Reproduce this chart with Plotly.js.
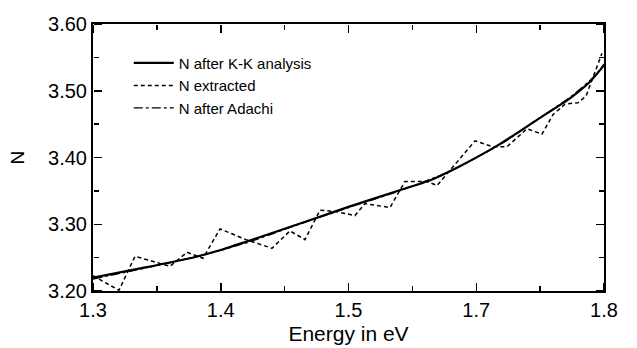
<!DOCTYPE html>
<html>
<head>
<meta charset="utf-8">
<script src="https://cdn.plot.ly/plotly-3.0.1.min.js"></script>
<style>html,body{margin:0;padding:0;background:#fff;}#chart{width:637px;height:348px;}</style>
</head>
<body>
<div id="chart"></div>
<script>
// Energy (eV) and refractive index N
const kkEnergy = [1.300, 1.350, 1.400, 1.424, 1.454, 1.512, 1.550, 1.600, 1.630, 1.659, 1.698, 1.737, 1.767, 1.786, 1.800];
const kkN      = [3.220, 3.235, 3.251, 3.261, 3.276, 3.306, 3.326, 3.351, 3.366, 3.387, 3.420, 3.459, 3.489, 3.513, 3.538];

const extEnergy = [1.300, 1.3254, 1.3411, 1.3753, 1.3920, 1.4076, 1.4243, 1.4497, 1.4751, 1.4927, 1.5074, 1.5221, 1.5378, 1.5563, 1.5661, 1.5906, 1.6052, 1.6268, 1.6366, 1.6738, 1.6914, 1.7050, 1.7246, 1.7393, 1.7500, 1.7618, 1.7745, 1.7824, 1.7980];
const extN      = [3.223, 3.201, 3.252, 3.237, 3.258, 3.249, 3.293, 3.277, 3.264, 3.290, 3.277, 3.321, 3.319, 3.313, 3.331, 3.325, 3.364, 3.364, 3.358, 3.425, 3.416, 3.416, 3.443, 3.435, 3.464, 3.480, 3.482, 3.492, 3.556];

const adaEnergy = [1.300, 1.350, 1.400, 1.450, 1.500, 1.550, 1.600, 1.650, 1.700, 1.740, 1.770, 1.790, 1.800];
const adaN      = [3.218, 3.234, 3.251, 3.272, 3.299, 3.325, 3.350, 3.380, 3.421, 3.462, 3.494, 3.521, 3.540];

const xTickVals = [1.3, 1.425, 1.55, 1.675, 1.8];
const xTickText = ["1.3", "1.4", "1.5", "1.7", "1.8"];

const hidden = {mode: 'lines', showlegend: false, hoverinfo: 'skip', line: {color: 'rgba(0,0,0,0)', width: 0}};
const traces = [
  {x: kkEnergy, y: kkN, mode: 'lines', name: 'N after K-K analysis',
   line: {color: '#000', width: 2.2, shape: 'spline', smoothing: 0.6}},
  {x: extEnergy, y: extN, mode: 'lines', name: 'N extracted',
   line: {color: '#000', width: 1.5, dash: '4px,3px'}},
  {x: adaEnergy, y: adaN, mode: 'lines', name: 'N after Adachi',
   line: {color: '#000', width: 1.3, dash: 'dashdot', shape: 'spline', smoothing: 0.6}},
  // invisible carriers so the tick-only overlay axes are drawn
  Object.assign({x: kkEnergy, y: kkN, xaxis: 'x2', yaxis: 'y'}, hidden),
  Object.assign({x: kkEnergy, y: kkN, xaxis: 'x3', yaxis: 'y'}, hidden),
  Object.assign({x: kkEnergy, y: kkN, xaxis: 'x', yaxis: 'y2'}, hidden),
  Object.assign({x: kkEnergy, y: kkN, xaxis: 'x', yaxis: 'y3'}, hidden)
];

const font = 'Liberation Sans, Arial, sans-serif';
const plain = {showgrid: false, zeroline: false, showline: false, showticklabels: false};
function xTickAxis(pos, side) {
  return Object.assign({}, plain, {
    overlaying: 'x', anchor: 'free', position: pos, side: side, range: [1.3, 1.8],
    tickmode: 'array', tickvals: xTickVals, ticks: 'outside', ticklen: 8, tickwidth: 1.5, tickcolor: '#000',
    minor: {tickmode: 'linear', tick0: 1.3, dtick: 0.0625, ticks: 'outside', ticklen: 5, tickwidth: 1.3, tickcolor: '#000'}
  });
}
function yTickAxis(pos, side) {
  return Object.assign({}, plain, {
    overlaying: 'y', anchor: 'free', position: pos, side: side, range: [3.2, 3.6],
    tickmode: 'linear', tick0: 3.2, dtick: 0.1, ticks: 'outside', ticklen: 8, tickwidth: 1.5, tickcolor: '#000',
    minor: {tickmode: 'linear', tick0: 3.2, dtick: 0.05, ticks: 'outside', ticklen: 5, tickwidth: 1.3, tickcolor: '#000'}
  });
}

const layout = {
  width: 637, height: 348,
  margin: {l: 93, r: 33, t: 24, b: 57},
  paper_bgcolor: '#fff', plot_bgcolor: '#fff',
  showlegend: true,
  legend: {x: 0.07, y: 0.915, xanchor: 'left', yanchor: 'top',
           font: {family: font, size: 15, color: '#000'}, bgcolor: 'rgba(0,0,0,0)',
           tracegroupgap: 0, itemwidth: 40},
  xaxis: {
    range: [1.3, 1.8], tickmode: 'array', tickvals: xTickVals, ticktext: xTickText,
    showgrid: false, zeroline: false, showline: true, linecolor: '#000', linewidth: 2,
    mirror: true, ticks: '',
    tickfont: {family: font, size: 20, color: '#000'},
    title: {text: 'Energy in eV', font: {family: font, size: 21, color: '#000'}, standoff: 6}
  },
  yaxis: {
    range: [3.2, 3.6], tickmode: 'linear', tick0: 3.2, dtick: 0.1, tickformat: '.2f',
    showgrid: false, zeroline: false, showline: true, linecolor: '#000', linewidth: 2,
    mirror: true, ticks: '',
    tickfont: {family: font, size: 20, color: '#000'},
    title: {text: 'N', font: {family: font, size: 19, color: '#000'}, standoff: 18}
  },
  xaxis2: xTickAxis(0, 'top'),
  xaxis3: xTickAxis(1, 'bottom'),
  yaxis2: yTickAxis(0, 'right'),
  yaxis3: yTickAxis(1, 'left')
};

Plotly.newPlot('chart', traces, layout, {displayModeBar: false, staticPlot: true});
</script>
</body>
</html>
